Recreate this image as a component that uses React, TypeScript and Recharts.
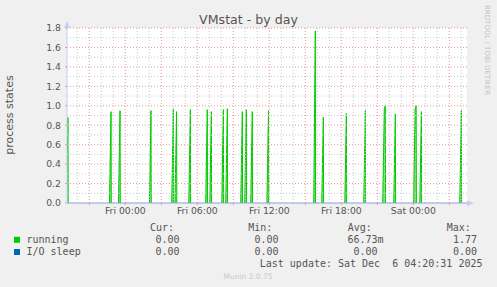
import { ComposedChart, Area, Line, XAxis, YAxis, ReferenceLine } from "recharts";

// hours relative to Fri 00:00
const xMin = -4.86;
const xMax = 28.47;

// each spike: start hour + consecutive 5-minute samples
const spikeStarts = [-4.78, -1.19, -0.44, 2.14, 4.0, 4.27, 5.42, 6.83, 7.17, 8.17, 8.5, 9.75, 10.08, 10.58, 11.93, 15.83, 16.5, 18.42, 20.0, 21.58, 22.5, 24.15, 24.67, 28.0];
const spikeSamples = [
  [0.88], [0.94], [0.95], [0.95], [0.97], [0.94], [0.96], [0.96], [0.94], [0.96], [0.97], [0.94],
  [0.96], [0.94], [0.95], [1.77], [0.885], [0.92], [0.95], [0.97, 1.0], [0.917], [0.97, 1.0], [0.94], [0.95],
];

const yTicks = [0, 0.2, 0.4, 0.6, 0.8, 1.0, 1.2, 1.4, 1.6, 1.8];
const yMinorGrid = [0.1, 0.3, 0.5, 0.7, 0.9, 1.1, 1.3, 1.5, 1.7];
const xMajorGrid = [-3, 0, 3, 6, 9, 12, 15, 18, 21, 24, 27];
const xMinorGrid = [-4, -2, -1, 1, 2, 4, 5, 7, 8, 10, 11, 13, 14, 16, 17, 19, 20, 22, 23, 25, 26, 28];
const xLabelHours = [0, 6, 12, 18, 24];
const xLabels = ["Fri 00:00", "Fri 06:00", "Fri 12:00", "Fri 18:00", "Sat 00:00"];

const seriesNames = ["running", "I/O sleep"];
const seriesColors = ["#00CC00", "#0066B3"];
const curValues = ["0.00", "0.00"];
const minValues = ["0.00", "0.00"];
const avgValues = ["66.73m", "0.00"];
const maxValues = ["1.77", "0.00"];

type Row = { t: number; running: number | null; io: number };

const rows: Row[] = [];
rows.push({ t: xMin, running: null, io: 0 });
spikeStarts.forEach((s, i) => {
  const samples = spikeSamples[i];
  rows.push({ t: s - 1.6 / 12, running: 0, io: 0 });
  samples.forEach((v, j) => rows.push({ t: s + j / 12, running: v, io: 0 }));
  const last = s + (samples.length - 1) / 12;
  rows.push({ t: last + 0.02, running: 0, io: 0 });
  rows.push({ t: last + 0.03, running: null, io: 0 });
});
rows.push({ t: xMax, running: null, io: 0 });

const font = "'DejaVu Sans', sans-serif";
const mono = "'DejaVu Sans Mono', monospace";
const txt = "#555";
const gridMajor = "#e49a9a";
const gridMinor = "#cccccc";
const axisCol = "#c6cef5";
const nb = "\u00a0";

export default function App() {
  const rowY = [239.5, 251.7];
  return (
    <div style={{ position: "absolute", left: 0, top: 0, width: 497, height: 287, background: "#f0f0f0" }}>
      <div style={{ position: "absolute", left: 67, top: 28, width: 400, height: 175, background: "#fff" }} />
      <div style={{ position: "absolute", left: 0, top: 0 }}>
        <ComposedChart width={497} height={287} data={rows} margin={{ top: 28, right: 30, bottom: 64, left: 27 }}>
          {yMinorGrid.map((v) => (
            <ReferenceLine key={"ym" + v} y={v} stroke={gridMinor} strokeDasharray="1 2" />
          ))}
          {xMinorGrid.map((v) => (
            <ReferenceLine key={"xm" + v} x={v} stroke={gridMinor} strokeDasharray="1 2" />
          ))}
          {yTicks.slice(1).map((v) => (
            <ReferenceLine key={"yM" + v} y={v} stroke={gridMajor} strokeDasharray="1 2" />
          ))}
          {xMajorGrid.map((v) => (
            <ReferenceLine key={"xM" + v} x={v} stroke={gridMajor} strokeDasharray="1 2" />
          ))}
          <XAxis
            dataKey="t"
            type="number"
            domain={[xMin, xMax]}
            allowDataOverflow
            ticks={xMajorGrid}
            interval={0}
            height={20}
            tickSize={2}
            tickMargin={2}
            tickLine={{ stroke: gridMajor }}
            axisLine={false}
            tickFormatter={(v: number) => {
              const i = xLabelHours.indexOf(v);
              return i >= 0 ? xLabels[i] : "";
            }}
            tick={{ fontSize: 9.3, fill: txt, fontFamily: font }}
          />
          <YAxis
            type="number"
            domain={[0, 1.8]}
            ticks={yTicks}
            interval={0}
            width={40}
            tickSize={2}
            tickMargin={4}
            tickLine={{ stroke: gridMajor }}
            axisLine={{ stroke: axisCol }}
            tickFormatter={(v: number) => v.toFixed(1)}
            tick={{ fontSize: 9.3, fill: txt, fontFamily: font }}
          />
          <Area
            dataKey="running"
            type="linear"
            stroke="#00CC00"
            strokeWidth={1}
            fill="#00CC00"
            fillOpacity={0.5}
            connectNulls={false}
            isAnimationActive={false}
            dot={false}
            activeDot={false}
          />
          <Line
            dataKey="io"
            type="linear"
            stroke="#8d9fdc"
            strokeWidth={1}
            dot={false}
            activeDot={false}
            isAnimationActive={false}
          />
        </ComposedChart>
      </div>
      <svg width={497} height={287} style={{ position: "absolute", left: 0, top: 0 }}>
        <polygon points="67,21 64,28 70,28" fill={axisCol} />
        <polygon points="474,203.3 467,200.3 467,206.3" fill={axisCol} />
        <text x={248.5} y={24} textAnchor="middle" fontFamily={font} fontSize={12.6} fill={txt}>
          VMstat - by day
        </text>
        <text
          transform="translate(12.5,115) rotate(-90)"
          textAnchor="middle"
          fontFamily={font}
          fontSize={11}
          fill={txt}
        >
          process states
        </text>
        <text
          transform="translate(485,5) rotate(90)"
          textAnchor="start"
          fontFamily={font}
          fontSize={7}
          fill="#c4c4c4"
        >
          RRDTOOL / TOBI OETIKER
        </text>
        <g fontFamily={mono} fontSize={10} fill={txt}>
          <text x={150} y={231.3}>Cur:</text>
          <text x={248.3} y={231.3}>Min:</text>
          <text x={347.7} y={231.3}>Avg:</text>
          <text x={446.7} y={231.3}>Max:</text>
          {seriesNames.map((name, i) => (
            <g key={name}>
              <rect x={14} y={rowY[i] - 2.7} width={6} height={6} fill={seriesColors[i]} />
              <text x={26.5} y={rowY[i] + 3.6}>{name}</text>
              <text x={179.5} y={rowY[i] + 3.6} textAnchor="end">{curValues[i]}</text>
              <text x={278.5} y={rowY[i] + 3.6} textAnchor="end">{minValues[i]}</text>
              <text x={383.5} y={rowY[i] + 3.6} textAnchor="end">{avgValues[i] + (avgValues[i].endsWith("m") ? "" : nb)}</text>
              <text x={477} y={rowY[i] + 3.6} textAnchor="end">{maxValues[i]}</text>
            </g>
          ))}
          <text x={482.5} y={266.9} textAnchor="end">{"Last update: Sat Dec" + nb + nb + "6 04:20:31 2025"}</text>
        </g>
        <text x={248} y={278.8} textAnchor="middle" fontFamily={font} fontSize={7.5} fill="#c8c8c8">
          Munin 2.0.75
        </text>
      </svg>
    </div>
  );
}
